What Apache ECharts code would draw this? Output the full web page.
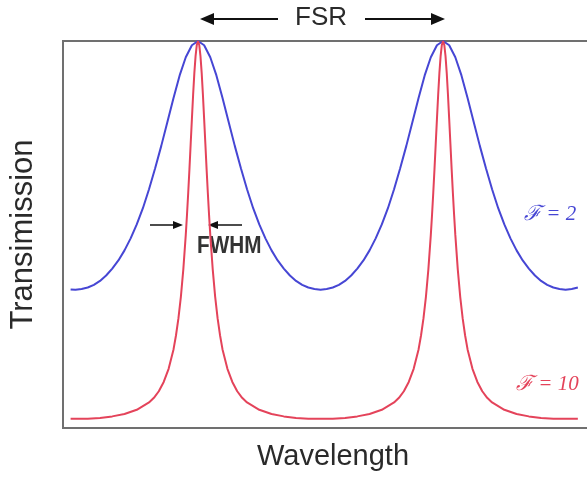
<!DOCTYPE html>
<html>
<head>
<meta charset="utf-8">
<script src="https://cdn.jsdelivr.net/npm/echarts@6/dist/echarts.min.js"></script>
<style>
  html, body { margin: 0; padding: 0; background: #fff; }
  #cpChart { width: 587px; height: 479px; }
</style>
</head>
<body>
<div id="cpChart"></div>
<script>
// wavelength positions, in units of the free spectral range (peaks at 0 and 1)
var blueX = [-0.52, -0.5, -0.475, -0.45, -0.425, -0.4, -0.375, -0.35, -0.325, -0.3, -0.275, -0.25, -0.225, -0.2, -0.175, -0.15, -0.125, -0.1, -0.075, -0.05, -0.025, 0,
	0.025, 0.05, 0.075, 0.1, 0.125, 0.15, 0.175, 0.2, 0.225, 0.25, 0.275, 0.3, 0.325, 0.35, 0.375, 0.4, 0.425, 0.45, 0.475, 0.5,
	0.525, 0.55, 0.575, 0.6, 0.625, 0.65, 0.675, 0.7, 0.725, 0.75, 0.775, 0.8, 0.825, 0.85, 0.875, 0.9, 0.925, 0.95, 0.975, 1,
	1.025, 1.05, 1.075, 1.1, 1.125, 1.15, 1.175, 1.2, 1.225, 1.25, 1.275, 1.3, 1.325, 1.35, 1.375, 1.4, 1.425, 1.45, 1.475, 1.5,
	1.525, 1.55];
// transmission, F = 2 (blue)
var blueY = [0.358, 0.357, 0.359, 0.363, 0.370, 0.380, 0.394, 0.412, 0.433, 0.459, 0.490, 0.526, 0.568, 0.617, 0.671, 0.729, 0.791, 0.853, 0.911, 0.958, 0.989, 1,
	0.989, 0.958, 0.911, 0.853, 0.791, 0.729, 0.671, 0.617, 0.568, 0.526, 0.490, 0.459, 0.433, 0.412, 0.394, 0.380, 0.370, 0.363, 0.359, 0.357,
	0.359, 0.363, 0.370, 0.380, 0.394, 0.412, 0.433, 0.459, 0.490, 0.526, 0.568, 0.617, 0.671, 0.729, 0.791, 0.853, 0.911, 0.958, 0.989, 1,
	0.989, 0.958, 0.911, 0.853, 0.791, 0.729, 0.671, 0.617, 0.568, 0.526, 0.490, 0.459, 0.433, 0.412, 0.394, 0.380, 0.370, 0.363, 0.359, 0.357,
	0.359, 0.363];

var redX = [-0.52, -0.5, -0.45, -0.4, -0.35, -0.3, -0.25, -0.2, -0.18, -0.16, -0.14, -0.12, -0.1, -0.09, -0.08, -0.07, -0.06, -0.05, -0.045, -0.04, -0.035, -0.03, -0.025, -0.02, -0.015, -0.01, -0.005, 0,
	0.005, 0.01, 0.015, 0.02, 0.025, 0.03, 0.035, 0.04, 0.045, 0.05, 0.06, 0.07, 0.08, 0.09, 0.1, 0.12, 0.14, 0.16, 0.18, 0.2, 0.25, 0.3, 0.35, 0.4, 0.45, 0.5,
	0.55, 0.6, 0.65, 0.7, 0.75, 0.8, 0.82, 0.84, 0.86, 0.88, 0.9, 0.91, 0.92, 0.93, 0.94, 0.95, 0.955, 0.96, 0.965, 0.97, 0.975, 0.98, 0.985, 0.99, 0.995, 1,
	1.005, 1.01, 1.015, 1.02, 1.025, 1.03, 1.035, 1.04, 1.045, 1.05, 1.06, 1.07, 1.08, 1.09, 1.1, 1.12, 1.14, 1.16, 1.18, 1.2, 1.25, 1.3, 1.35, 1.4, 1.45, 1.5, 1.55];
// transmission, F = 10 (red)
var redY = [0.024, 0.024, 0.024, 0.026, 0.030, 0.036, 0.047, 0.066, 0.078, 0.095, 0.119, 0.153, 0.203, 0.239, 0.283, 0.339, 0.410, 0.499, 0.551, 0.608, 0.669, 0.734, 0.798, 0.861, 0.917, 0.961, 0.990, 1,
	0.990, 0.961, 0.917, 0.861, 0.798, 0.734, 0.669, 0.608, 0.551, 0.499, 0.410, 0.339, 0.283, 0.239, 0.203, 0.153, 0.119, 0.095, 0.078, 0.066, 0.047, 0.036, 0.030, 0.026, 0.024, 0.024,
	0.024, 0.026, 0.030, 0.036, 0.047, 0.066, 0.078, 0.095, 0.119, 0.153, 0.203, 0.239, 0.283, 0.339, 0.410, 0.499, 0.551, 0.608, 0.669, 0.734, 0.798, 0.861, 0.917, 0.961, 0.990, 1,
	0.990, 0.961, 0.917, 0.861, 0.798, 0.734, 0.669, 0.608, 0.551, 0.499, 0.410, 0.339, 0.283, 0.239, 0.203, 0.153, 0.119, 0.095, 0.078, 0.066, 0.047, 0.036, 0.030, 0.026, 0.024, 0.024, 0.024];

function zipXY(xs, ys) {
	var out = [];
	for (var i = 0; i < xs.length; i++) {
		out.push([xs[i], ys[i]]);
	}
	return out;
}

var eChart = echarts.init(document.getElementById('cpChart'));

var sansFont = '"Liberation Sans", Arial, sans-serif';
var serifFont = '"Liberation Serif", "DejaVu Serif", serif';
var arrowColor = '#111';
var blueColor = '#4646d4';
var redColor = '#e4435a';

var eChartOption = {
	animation: false,
	backgroundColor: '#fff',
	grid: {
		show: true,
		outerBoundsMode: 'none',
		left: 63,
		width: 532,
		top: 41,
		height: 387,
		borderColor: '#707070',
		borderWidth: 2
	},
	xAxis: {
		type: 'value',
		min: -0.551,
		max: 1.62,
		name: 'Wavelength',
		nameLocation: 'middle',
		nameGap: 14,
		nameTextStyle: { fontFamily: sansFont, fontSize: 29, color: '#2a2a2a', verticalAlign: 'top', padding: [0, 0, 0, 8] },
		axisLine: { show: false },
		axisTick: { show: false },
		axisLabel: { show: false },
		splitLine: { show: false }
	},
	yAxis: {
		type: 'value',
		min: 0,
		max: 1,
		name: 'Transimission',
		nameLocation: 'middle',
		nameGap: 24,
		nameTextStyle: { fontFamily: sansFont, fontSize: 31, color: '#2a2a2a' },
		axisLine: { show: false },
		axisTick: { show: false },
		axisLabel: { show: false },
		splitLine: { show: false }
	},
	series: [
		{
			name: 'F = 2',
			type: 'line',
			data: zipXY(blueX, blueY),
			showSymbol: false,
			clip: false,
			lineStyle: { color: blueColor, width: 2 },
			itemStyle: { color: blueColor }
		},
		{
			name: 'F = 10',
			type: 'line',
			data: zipXY(redX, redY),
			showSymbol: false,
			clip: false,
			lineStyle: { color: redColor, width: 2 },
			itemStyle: { color: redColor }
		}
	],
	graphic: [
		// FSR label and arrows
		{ type: 'text', left: 295, top: 5, style: { text: 'FSR', fontFamily: sansFont, fontSize: 26, fill: '#2a2a2a' } },
		{ type: 'line', shape: { x1: 212, y1: 19, x2: 278, y2: 19 }, style: { stroke: arrowColor, lineWidth: 2 } },
		{ type: 'polygon', shape: { points: [[200, 19], [214, 13], [214, 25]] }, style: { fill: arrowColor } },
		{ type: 'line', shape: { x1: 365, y1: 19, x2: 432, y2: 19 }, style: { stroke: arrowColor, lineWidth: 2 } },
		{ type: 'polygon', shape: { points: [[445, 19], [431, 13], [431, 25]] }, style: { fill: arrowColor } },
		// FWHM label and arrows
		{ type: 'line', shape: { x1: 150, y1: 225, x2: 175, y2: 225 }, style: { stroke: arrowColor, lineWidth: 1.5 } },
		{ type: 'polygon', shape: { points: [[183, 225], [173, 221], [173, 229]] }, style: { fill: arrowColor } },
		{ type: 'line', shape: { x1: 216, y1: 225, x2: 242, y2: 225 }, style: { stroke: arrowColor, lineWidth: 1.5 } },
		{ type: 'polygon', shape: { points: [[208, 225], [218, 221], [218, 229]] }, style: { fill: arrowColor } },
		{ type: 'text', x: 197, y: 235, scaleX: 0.9, style: { text: 'FWHM', fontFamily: sansFont, fontWeight: 'bold', fontSize: 23, fill: '#333' } },
		// curve labels
		{ type: 'text', left: 524, top: 204, style: { text: 'ℱ = 2', fontFamily: serifFont, fontStyle: 'italic', fontSize: 21, fill: blueColor } },
		{ type: 'text', left: 516, top: 374, style: { text: 'ℱ = 10', fontFamily: serifFont, fontStyle: 'italic', fontSize: 21, fill: redColor } }
	]
};

eChart.setOption(eChartOption);
</script>
</body>
</html>
